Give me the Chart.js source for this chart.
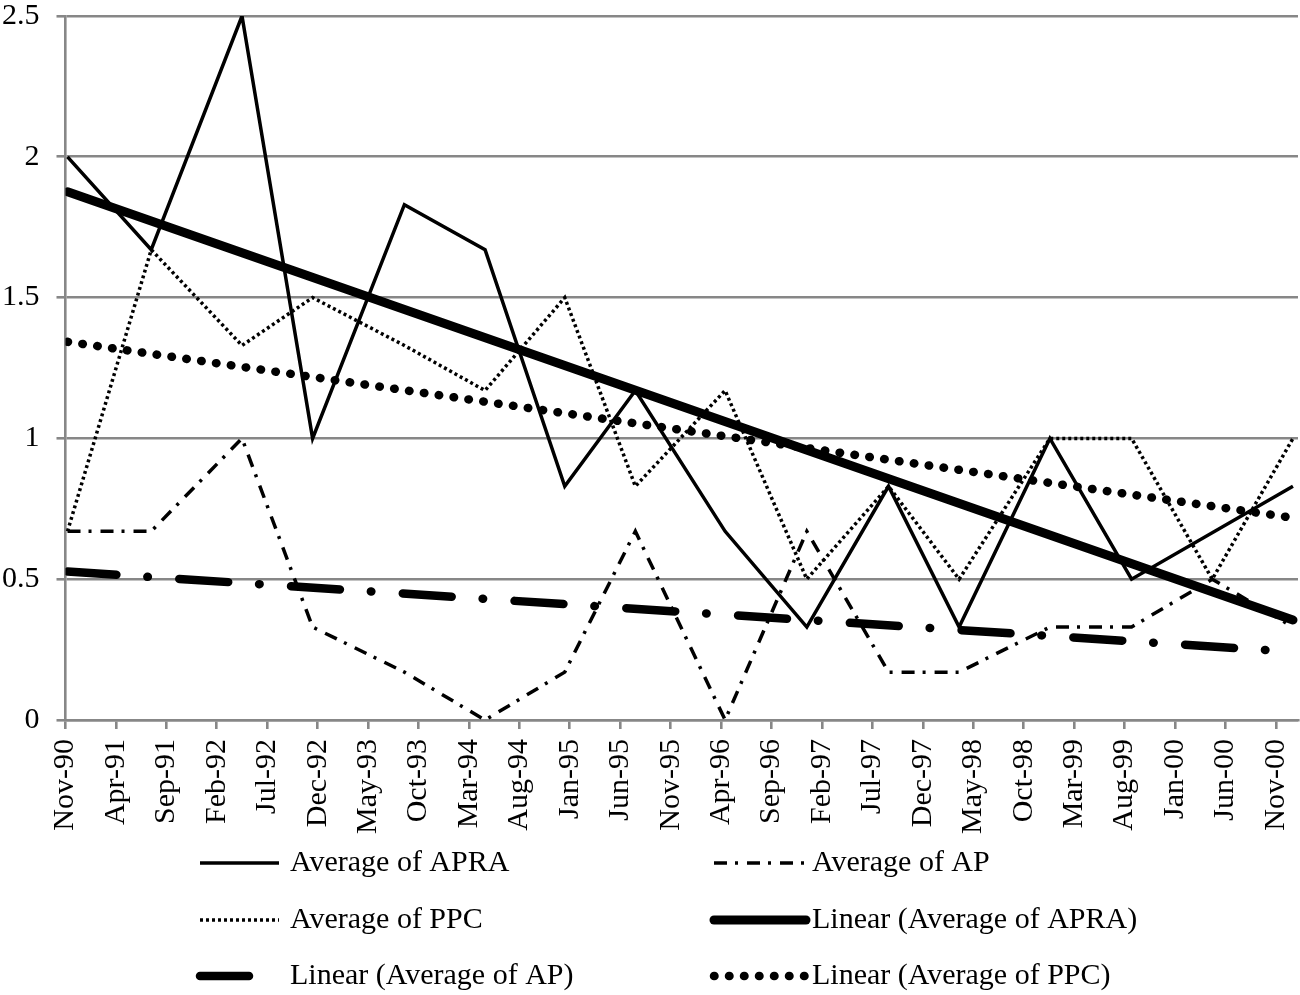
<!DOCTYPE html>
<html>
<head>
<meta charset="utf-8">
<script src="https://cdn.jsdelivr.net/npm/chart.js@4.4.1/dist/chart.umd.min.js"></script>
<style>
  html, body { margin: 0; padding: 0; background: #fff; }
  #wrap { width: 1300px; height: 995px; position: relative; }
</style>
</head>
<body>
<div id="wrap"><canvas id="chartAvg"></canvas></div>
<script>
// months counted from Nov-90
var monthPos = [0.2, 8.5, 17.5, 24.5, 33.6, 41.6, 49.5, 56.5, 65.4, 73.5, 81.6, 88.6, 97.6, 105.7, 113.7, 121.7];
var apra = [2.0, 1.67, 2.5, 1.0, 1.83, 1.67, 0.83, 1.17, 0.67, 0.33, 0.83, 0.33, 1.0, 0.5, null, 0.83];
var ap = [0.67, 0.67, 1.0, 0.33, 0.17, 0, 0.17, 0.67, 0, 0.67, 0.17, 0.17, 0.33, 0.33, 0.5, 0.33];
var ppc = [0.67, 1.67, 1.33, 1.5, 1.33, 1.17, 1.5, 0.83, 1.17, 0.5, 0.83, 0.5, 1.0, 1.0, 0.5, 1.0];

// trend line ends
var trendPos = [0.2, 121.7];
var trendApra = [1.876, 0.355];
var trendAp = [0.527, 0.242];
var trendPpc = [1.343, 0.718];

var tickLabels = ['Nov-90', 'Apr-91', 'Sep-91', 'Feb-92', 'Jul-92', 'Dec-92', 'May-93', 'Oct-93',
  'Mar-94', 'Aug-94', 'Jan-95', 'Jun-95', 'Nov-95', 'Apr-96', 'Sep-96', 'Feb-97', 'Jul-97',
  'Dec-97', 'May-98', 'Oct-98', 'Mar-99', 'Aug-99', 'Jan-00', 'Jun-00', 'Nov-00'];
var tickStep = 5;

var FONT = '"Liberation Serif", "Times New Roman", serif';
var GRID = '#878787';

function xy(xs, ys) {
    return xs.map(function(x, i) { return { x: x, y: ys[i] }; });
}

function lineSet(label, pts, width, dash, cap) {
    return {
        label: label,
        data: pts,
        borderColor: '#000',
        backgroundColor: '#000',
        borderWidth: width,
        borderDash: dash,
        borderCapStyle: cap,
        borderJoinStyle: 'miter',
        pointRadius: 0,
        tension: 0,
        fill: false,
        spanGaps: true
    };
}

// legend drawn under the axis, two columns
var bottomLegend = {
    id: 'bottomLegend',
    afterDraw: function(chart) {
        var ctx = chart.ctx;
        var cols = [{ x0: 200, x1: 279, tx: 290 }, { x0: 714, x1: 806, tx: 812 }];
        var rows = [863, 920, 976];
        chart.data.datasets.forEach(function(ds, i) {
            var c = cols[i % 2];
            var y = rows[Math.floor(i / 2)];
            ctx.save();
            ctx.strokeStyle = ds.borderColor;
            ctx.lineWidth = ds.borderWidth;
            ctx.lineCap = ds.borderCapStyle || 'butt';
            ctx.setLineDash(ds.borderDash || []);
            ctx.beginPath();
            ctx.moveTo(c.x0, y);
            ctx.lineTo(c.x1, y);
            ctx.stroke();
            ctx.setLineDash([]);
            ctx.fillStyle = '#000';
            ctx.font = '30px ' + FONT;
            ctx.textAlign = 'left';
            ctx.textBaseline = 'middle';
            ctx.fillText(ds.label, c.tx, y);
            ctx.restore();
        });
    }
};

var data = {
    datasets: [
        lineSet('Average of APRA', xy(monthPos, apra), 3.5, [], 'butt'),
        lineSet('Average of AP', xy(monthPos, ap), 3.5, [13, 8, 3, 9], 'butt'),
        lineSet('Average of PPC', xy(monthPos, ppc), 3.5, [3, 3], 'butt'),
        lineSet('Linear (Average of APRA)', xy(trendPos, trendApra), 9, [], 'round'),
        lineSet('Linear (Average of AP)', xy(trendPos, trendAp), 8.5, [49, 31, 0.5, 31.5], 'round'),
        lineSet('Linear (Average of PPC)', xy(trendPos, trendPpc), 8.5, [0.5, 14.5], 'round')
    ]
};

var config = {
    type: 'line',
    data: data,
    options: {
        responsive: true,
        maintainAspectRatio: false,
        animation: false,
        layout: { padding: { top: 16, right: 2, left: 0, bottom: 0 } },
        plugins: {
            legend: { display: false },
            tooltip: { enabled: false }
        },
        scales: {
            x: {
                type: 'linear',
                min: 0,
                max: 122.2,
                afterBuildTicks: function(scale) {
                    scale.ticks = tickLabels.map(function(l, i) { return { value: i * tickStep }; });
                },
                afterFit: function(scale) {
                    scale.height = 275;
                    scale.paddingLeft = 0;
                    scale.paddingRight = 0;
                },
                ticks: {
                    callback: function(v) { return tickLabels[Math.round(v / tickStep)]; },
                    minRotation: 90,
                    maxRotation: 90,
                    autoSkip: false,
                    padding: 10,
                    color: '#000',
                    font: { family: FONT, size: 30, lineHeight: 1 }
                },
                grid: {
                    drawOnChartArea: false,
                    drawTicks: true,
                    tickLength: 9,
                    color: GRID,
                    lineWidth: 2.6
                },
                border: { display: true, color: GRID, width: 2.6 }
            },
            y: {
                min: 0,
                max: 2.5,
                afterFit: function(scale) {
                    scale.width = 65.5;
                    scale.paddingTop = 0;
                    scale.paddingBottom = 0;
                },
                ticks: {
                    stepSize: 0.5,
                    padding: 17,
                    color: '#000',
                    font: { family: FONT, size: 30, lineHeight: 1 },
                    callback: function(v) { return String(v); }
                },
                grid: {
                    color: GRID,
                    lineWidth: 2.6,
                    tickLength: 9
                },
                border: { display: true, color: GRID, width: 2.6 }
            }
        }
    },
    plugins: [bottomLegend]
};

var chart = new Chart(document.getElementById('chartAvg'), config);
</script>
</body>
</html>
